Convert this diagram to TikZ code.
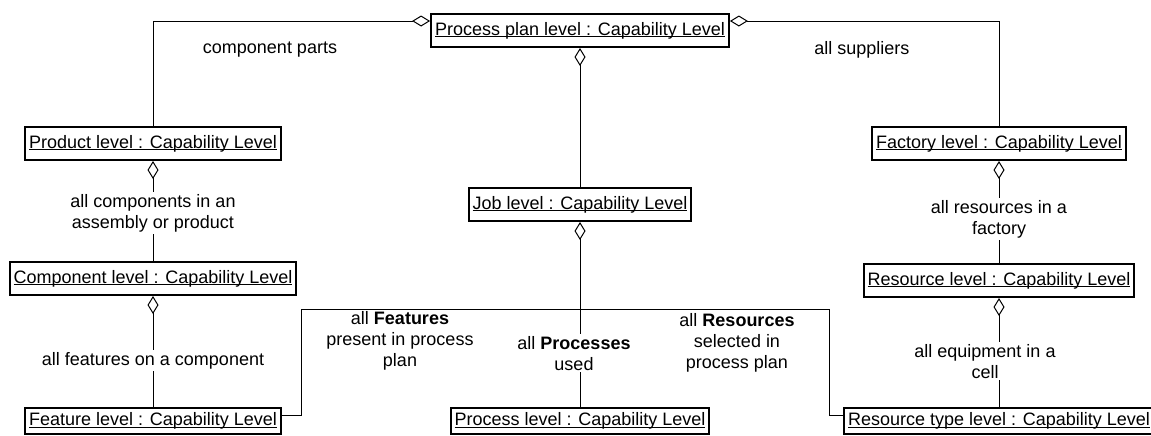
\documentclass[tikz,border=0pt]{standalone}
\usepackage{fontspec}
\setmainfont{Liberation Sans}
\usetikzlibrary{arrows.meta,calc}
\newcommand{\objname}[1]{\setbox0\hbox{#1}\rlap{\rule[-1.1pt]{\wd0}{0.45pt}}\box0}

\begin{document}
\begin{tikzpicture}
    [
        x=0.5pt, y=-0.5pt,
        font=\fontsize{9pt}{10.5pt}\selectfont,
        obj/.style={draw, line width=1pt, inner xsep=2pt, inner ysep=0pt, minimum height=16.5pt, anchor=north},
        objcut/.style={obj, minimum height=13pt},
        conn/.style={line width=0.5pt},
        agg/.style={conn, {Diamond[open, length=9pt, width=5.5pt]}-},
        lbl/.style={fill=white, align=center, inner sep=1pt}
    ]
    \useasboundingbox (0,0) rectangle (1151,435);

    % capability levels
    \node[obj] (plan) at (580,13) {\objname{Process plan level : Capability Level}};
    \node[obj] (product) at (153,126) {\objname{Product level : Capability Level}};
    \node[obj] (component) at (153,261) {\objname{Component level : Capability Level}};
    \node[objcut] (feature) at (153,407) {\objname{Feature level : Capability Level}};
    \node[obj] (job) at (580,187) {\objname{Job level : Capability Level}};
    \node[objcut] (process) at (580,407) {\objname{Process level : Capability Level}};
    \node[obj] (factory) at (999,126) {\objname{Factory level : Capability Level}};
    \node[obj] (resource) at (999,263) {\objname{Resource level : Capability Level}};
    \node[objcut] (restype) at (999,407) {\objname{Resource type level : Capability Level}};

    % aggregations
    \draw[agg] ([yshift=-4pt]plan.north west) -| (product.north);
    \draw[agg] ([yshift=-4pt]plan.north east) -| (factory.north);
    \draw[agg] (plan.south) -- (job.north);

    \draw[agg] (product.south) -- (component.north)
        node[lbl, pos=0.52] (complbl) {all components in an\\assembly or product};
    \draw[agg] (component.south) -- (feature.north)
        node[lbl, pos=0.58] (featlbl) {all features on a component};
    \draw[agg] (factory.south) -- (resource.north)
        node[lbl, pos=0.57] (reslbl) {all resources in a\\factory};
    \draw[agg] (resource.south) -- (restype.north)
        node[lbl, pos=0.58, xshift=-7pt] (equiplbl) {all equipment in a\\cell};

    \coordinate (forkl) at (301,309);
    \coordinate (forkr) at (829,309);
    \draw[agg] (job.south) -- (process.north)
        node[lbl, pos=0.71, xshift=-3pt] (proclbl) {all \textbf{Processes}\\used};
    \draw[conn] ([yshift=-4pt]feature.north east) -| (forkl) -- (forkr)
        |- ([yshift=-4pt]restype.north west);

    % role labels
    \node (partslbl) at (270,50) {component parts};
    \node (supplbl) at (862,50) {all suppliers};
    \node[align=center] (featpplbl) at (400,341) {all \textbf{Features}\\present in process\\plan};
    \node[align=center] (respplbl) at (737,343) {all \textbf{Resources}\\selected in\\process plan};
\end{tikzpicture}
\end{document}
